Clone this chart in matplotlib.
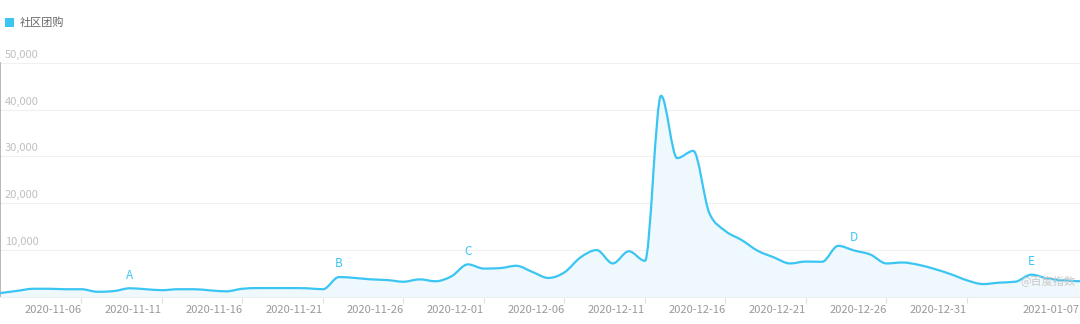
import numpy as np
import pandas as pd
import matplotlib
matplotlib.use("Agg")
import matplotlib.pyplot as plt
from matplotlib.path import Path
from matplotlib.patches import PathPatch, Patch
import matplotlib.transforms as mtransforms

plt.rcParams['font.family'] = ['Noto Sans CJK SC', 'DejaVu Sans']

# ---------------- data ----------------
series_name = '社区团购'
dates = pd.date_range('2020-11-01', '2021-01-07', freq='D')
values = [900, 1350, 1800, 1800, 1700, 1700, 1150, 1300, 1900, 1700,
          1500, 1700, 1700, 1450, 1250, 1800, 1950, 1950, 1950, 1900,
          1700, 4300, 4100, 3800, 3650, 3300, 3800, 3400, 4500, 7000,
          6100, 6200, 6700, 5400, 4100, 5300, 8500, 10050, 7200, 9800,
          7750, 42950, 29650, 31200, 17900, 14100, 12200, 9900, 8500, 7200,
          7600, 7550, 10950, 9950, 9100, 7200, 7400, 6900, 6000, 4900,
          3600, 2800, 3100, 3300, 4800, 4000, 3600, 3400]
tick_dates = ['2020-11-06', '2020-11-11', '2020-11-16', '2020-11-21',
              '2020-11-26', '2020-12-01', '2020-12-06', '2020-12-11',
              '2020-12-16', '2020-12-21', '2020-12-26', '2020-12-31',
              '2021-01-07']
y_ticks = [10000, 20000, 30000, 40000, 50000]
mark_labels = ['A', 'B', 'C', 'D', 'E']
mark_dates = ['2020-11-09', '2020-11-22', '2020-11-30', '2020-12-24', '2021-01-04']
watermark = '@百度指数'

LINE = '#3bc5f3'
FILL = '#eff8fc'

# ---------------- figure ----------------
fig = plt.figure(figsize=(10.8, 3.24), dpi=100)
bottom = (324 - 297.2) / 324
top = 1 - 62.7 / 324
ax = fig.add_axes([0.0, bottom, 1.0, top - bottom])
ax.set_xlim(-0.06, 67.02)
ax.set_ylim(0, 50000)

x = np.array([(d - dates[0]).days for d in dates], dtype=float)
y = np.array(values, dtype=float)
n = len(x)

# monotone cubic (Steffen) tangents -> bezier path through the data points
h = np.diff(x)
s = np.diff(y) / h
m = np.zeros(n)
for i in range(1, n - 1):
    p = (s[i - 1] * h[i] + s[i] * h[i - 1]) / (h[i - 1] + h[i])
    m[i] = (np.sign(s[i - 1]) + np.sign(s[i])) * min(abs(s[i - 1]), abs(s[i]), 0.5 * abs(p))
m[0] = (3 * s[0] - m[1]) / 2
m[-1] = (3 * s[-1] - m[-2]) / 2

verts = [(x[0], y[0])]
codes = [Path.MOVETO]
for i in range(n - 1):
    dx = h[i] / 3
    verts += [(x[i] + dx, y[i] + dx * m[i]),
              (x[i + 1] - dx, y[i + 1] - dx * m[i + 1]),
              (x[i + 1], y[i + 1])]
    codes += [Path.CURVE4] * 3

line_path = Path(verts, codes)
fill_verts = verts + [(x[-1], 0), (x[0], 0), verts[0]]
fill_codes = codes + [Path.LINETO, Path.LINETO, Path.CLOSEPOLY]
ax.add_patch(PathPatch(Path(fill_verts, fill_codes), facecolor=FILL,
                       edgecolor='none', zorder=1))
ax.add_patch(PathPatch(line_path, facecolor='none', edgecolor=LINE,
                       linewidth=1.6, zorder=3, capstyle='round',
                       joinstyle='round'))

# grid
for v in y_ticks:
    ax.axhline(v, color='#f0f0f0', linewidth=0.8, zorder=0)
ax.set_yticks([])

# y labels inside the axes above grid lines
ytrans = mtransforms.offset_copy(ax.get_yaxis_transform(), fig=fig, x=5, y=3, units='dots')
for v in y_ticks:
    ax.text(0, v, f'{v:,}', transform=ytrans, ha='left', va='bottom',
            fontsize=8, color='#c0c0c0')

# x ticks
tick_x = [(pd.Timestamp(d) - dates[0]).days for d in tick_dates]
ax.set_xticks(tick_x)
ax.set_xticklabels(tick_dates, ha='right', fontsize=8, color='#999999')
ax.tick_params(axis='x', length=4, width=0.8, color='#e0e0e0', pad=1.5)

for sp in ['top', 'right']:
    ax.spines[sp].set_visible(False)
ax.spines['bottom'].set_color('#eeeeee')
ax.spines['bottom'].set_linewidth(0.8)
ax.spines['left'].set_color('#aaaaaa')
ax.spines['left'].set_linewidth(1.2)

# event markers
for lab, d in zip(mark_labels, mark_dates):
    k = (pd.Timestamp(d) - dates[0]).days
    ax.annotate(lab, (k, values[k]), xytext=(0, 9.5), textcoords='offset points',
                ha='center', va='center', fontsize=8.5, color=LINE, zorder=4)

# watermark
ax.text(0.97, 0.065, watermark, transform=ax.transAxes, ha='center', va='center',
        fontsize=8, color='#c8c8c8', zorder=5)

# legend
leg = fig.legend(handles=[Patch(facecolor=LINE, edgecolor='none', label=series_name)],
                 loc='center left', bbox_to_anchor=(2 / 1080, 1 - 23 / 324),
                 frameon=False, fontsize=8, handlelength=0.8, handleheight=0.8,
                 handletextpad=0.5, borderaxespad=0, borderpad=0.3)
for txt in leg.get_texts():
    txt.set_color('#666666')

fig.savefig('out.png', dpi=100)
